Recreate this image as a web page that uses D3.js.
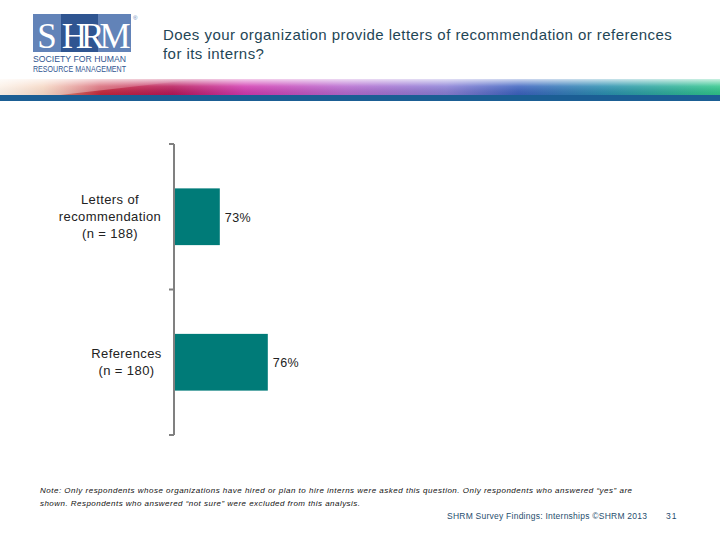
<!DOCTYPE html>
<html>
<head>
<meta charset="utf-8">
<script src="https://cdn.jsdelivr.net/npm/d3@7"></script>
<style>
  html, body { margin: 0; padding: 0; background: #fff; }
  svg { display: block; }
</style>
</head>
<body>
<svg id="chart" width="720" height="540"></svg>
<script>
const categories = [["Letters of", "recommendation", "(n = 188)"], ["References", "(n = 180)"]];
const categoryKeys = ["Letters of recommendation (n = 188)", "References (n = 180)"];
const values = [73, 76];
const valueLabels = ["73%", "76%"];
const titleLines = ["Does your organization provide letters of recommendation or references", "for its interns?"];
const noteLines = [
  "Note: Only respondents whose organizations have hired or plan to hire interns were asked this question.  Only respondents who answered \u201Cyes\u201D are",
  "shown. Respondents who answered \u201Cnot sure\u201D were excluded from this analysis."
];
const footerText = "SHRM Survey Findings: Internships \u00A9SHRM 2013";
const pageNumber = "31";

const svg = d3.select("#chart");
const defs = svg.append("defs");
const FONT = "Liberation Sans, Arial, sans-serif";

// Header band gradient
const g1 = defs.append("linearGradient").attr("id", "band").attr("x1", "0").attr("x2", "1").attr("y1", "0").attr("y2", "0");
[["0%", "#f6dcc4"], ["6%", "#eeb48f"], ["14%", "#c8283c"], ["24%", "#b8185a"], ["34%", "#d23ab0"], ["48%", "#b66ad0"], ["62%", "#8a7fd6"], ["72%", "#3c62c0"], ["84%", "#2a8fb0"], ["100%", "#2fc78a"]]
  .forEach(([o, c]) => g1.append("stop").attr("offset", o).attr("stop-color", c));
const g2 = defs.append("linearGradient").attr("id", "bandShade").attr("x1", "0").attr("x2", "0").attr("y1", "0").attr("y2", "1");
g2.append("stop").attr("offset", "0%").attr("stop-color", "#fff").attr("stop-opacity", 0.75);
g2.append("stop").attr("offset", "45%").attr("stop-color", "#fff").attr("stop-opacity", 0.15);
g2.append("stop").attr("offset", "100%").attr("stop-color", "#000").attr("stop-opacity", 0.08);

svg.append("rect").attr("x", 0).attr("y", 79).attr("width", 720).attr("height", 16).attr("fill", "url(#band)");
svg.append("rect").attr("x", 0).attr("y", 79).attr("width", 720).attr("height", 16).attr("fill", "url(#bandShade)");
const g3 = defs.append("linearGradient").attr("id", "leftFade").attr("x1", "0").attr("x2", "1");
g3.append("stop").attr("offset", "0%").attr("stop-color", "#fff").attr("stop-opacity", 0.6);
g3.append("stop").attr("offset", "100%").attr("stop-color", "#fff").attr("stop-opacity", 0);
svg.append("path").attr("d", "M0,79 L200,79 L60,95 L0,95 Z").attr("fill", "url(#leftFade)");
svg.append("rect").attr("x", 0).attr("y", 95).attr("width", 720).attr("height", 6).attr("fill", "#1b5e94");

// Logo
const logo = svg.append("g");
logo.append("rect").attr("x", 33).attr("y", 14).attr("width", 98).attr("height", 38).attr("fill", "#6283b8");
logo.append("rect").attr("x", 61).attr("y", 14).attr("width", 37).attr("height", 38).attr("fill", "#2f5591");
logo.append("text").attr("x", 47).attr("y", 48).attr("text-anchor", "middle")
  .attr("font-family", "Liberation Serif, serif").attr("font-size", 35).attr("fill", "#fff").text("S");
logo.append("text").attr("x", 80).attr("y", 48).attr("text-anchor", "middle").attr("letter-spacing", -6)
  .attr("font-family", "Liberation Serif, serif").attr("font-size", 35).attr("fill", "#fff").text("HR");
logo.append("text").attr("x", 115).attr("y", 48).attr("text-anchor", "middle")
  .attr("font-family", "Liberation Serif, serif").attr("font-size", 35).attr("fill", "#fff").text("M");
logo.append("text").attr("x", 133).attr("y", 20).attr("font-family", FONT).attr("font-size", 6).attr("fill", "#6283b8").text("\u00AE");
logo.append("text").attr("x", 33).attr("y", 62).attr("font-family", FONT).attr("font-size", 8.3).attr("fill", "#2f5591").attr("textLength", 93).attr("lengthAdjust", "spacingAndGlyphs").text("SOCIETY FOR HUMAN");
logo.append("text").attr("x", 33).attr("y", 72).attr("font-family", FONT).attr("font-size", 8.3).attr("fill", "#2f5591").attr("textLength", 93).attr("lengthAdjust", "spacingAndGlyphs").text("RESOURCE MANAGEMENT");

// Title
svg.append("g").selectAll("text").data(titleLines).join("text")
  .attr("x", 163).attr("y", (d, i) => 40 + i * 19)
  .attr("font-family", FONT).attr("font-size", 15).attr("letter-spacing", 0.45)
  .attr("fill", "#1f4656").text(d => d);

// Scales
const x = d3.scaleLinear().domain([70.2, 100]).range([175, 175 + 29.8 * 16]);
const y = d3.scaleBand().domain(categoryKeys).range([144, 435]).padding(0);
const barH = y.bandwidth() * 0.39;

// Bars
svg.append("g").selectAll("rect").data(values).join("rect")
  .attr("x", x(x.domain()[0]))
  .attr("y", (d, i) => y(categoryKeys[i]) + (y.bandwidth() - barH) / 2)
  .attr("width", d => x(d) - x(x.domain()[0]))
  .attr("height", barH)
  .attr("fill", "#007b78");

// Axis line + ticks at band boundaries
const axisG = svg.append("g").attr("stroke", "#808080").attr("stroke-width", 2).attr("fill", "none");
const ax = x(x.domain()[0]) - 1;
axisG.append("line").attr("x1", ax).attr("x2", ax).attr("y1", y.range()[0]).attr("y2", y.range()[1]);
const bounds = [y.range()[0], y(categoryKeys[1]), y.range()[1]];
axisG.selectAll("line.t").data(bounds).join("line").attr("class", "t")
  .attr("x1", ax - 5).attr("x2", ax).attr("y1", d => d).attr("y2", d => d);

// Category labels
categories.forEach((lines, i) => {
  const cy = y(categoryKeys[i]) + y.bandwidth() / 2;
  const lh = 17;
  const t = svg.append("text").attr("text-anchor", "middle")
    .attr("font-family", FONT).attr("font-size", 13).attr("letter-spacing", 0.4).attr("fill", "#222");
  lines.forEach((l, j) => {
    t.append("tspan").attr("x", i === 0 ? 110 : 126.5)
      .attr("y", cy + (j - (lines.length - 1) / 2) * lh + 4.5).text(l);
  });
});

// Value labels
svg.append("g").selectAll("text").data(values).join("text")
  .attr("x", d => x(d) + 5)
  .attr("y", (d, i) => y(categoryKeys[i]) + y.bandwidth() / 2 + 5)
  .attr("font-family", FONT).attr("font-size", 12.5).attr("letter-spacing", 0.4).attr("fill", "#222")
  .text((d, i) => valueLabels[i]);

// Note
const noteLens = [592, 320];
svg.append("g").selectAll("text").data(noteLines).join("text")
  .attr("x", 40).attr("y", (d, i) => 493 + i * 13)
  .attr("font-family", FONT).attr("font-size", 8)
  .attr("textLength", (d, i) => noteLens[i]).attr("lengthAdjust", "spacing")
  .attr("font-style", "italic").attr("fill", "#111").text(d => d);

// Footer
svg.append("text").attr("x", 447).attr("y", 519)
  .attr("font-family", FONT).attr("font-size", 8.5).attr("textLength", 200).attr("lengthAdjust", "spacing")
  .attr("fill", "#1f4e6e").text(footerText);
svg.append("text").attr("x", 666).attr("y", 519)
  .attr("font-family", FONT).attr("font-size", 8.5).attr("letter-spacing", 1).attr("fill", "#1f4e6e").text(pageNumber);
</script>
</body>
</html>
